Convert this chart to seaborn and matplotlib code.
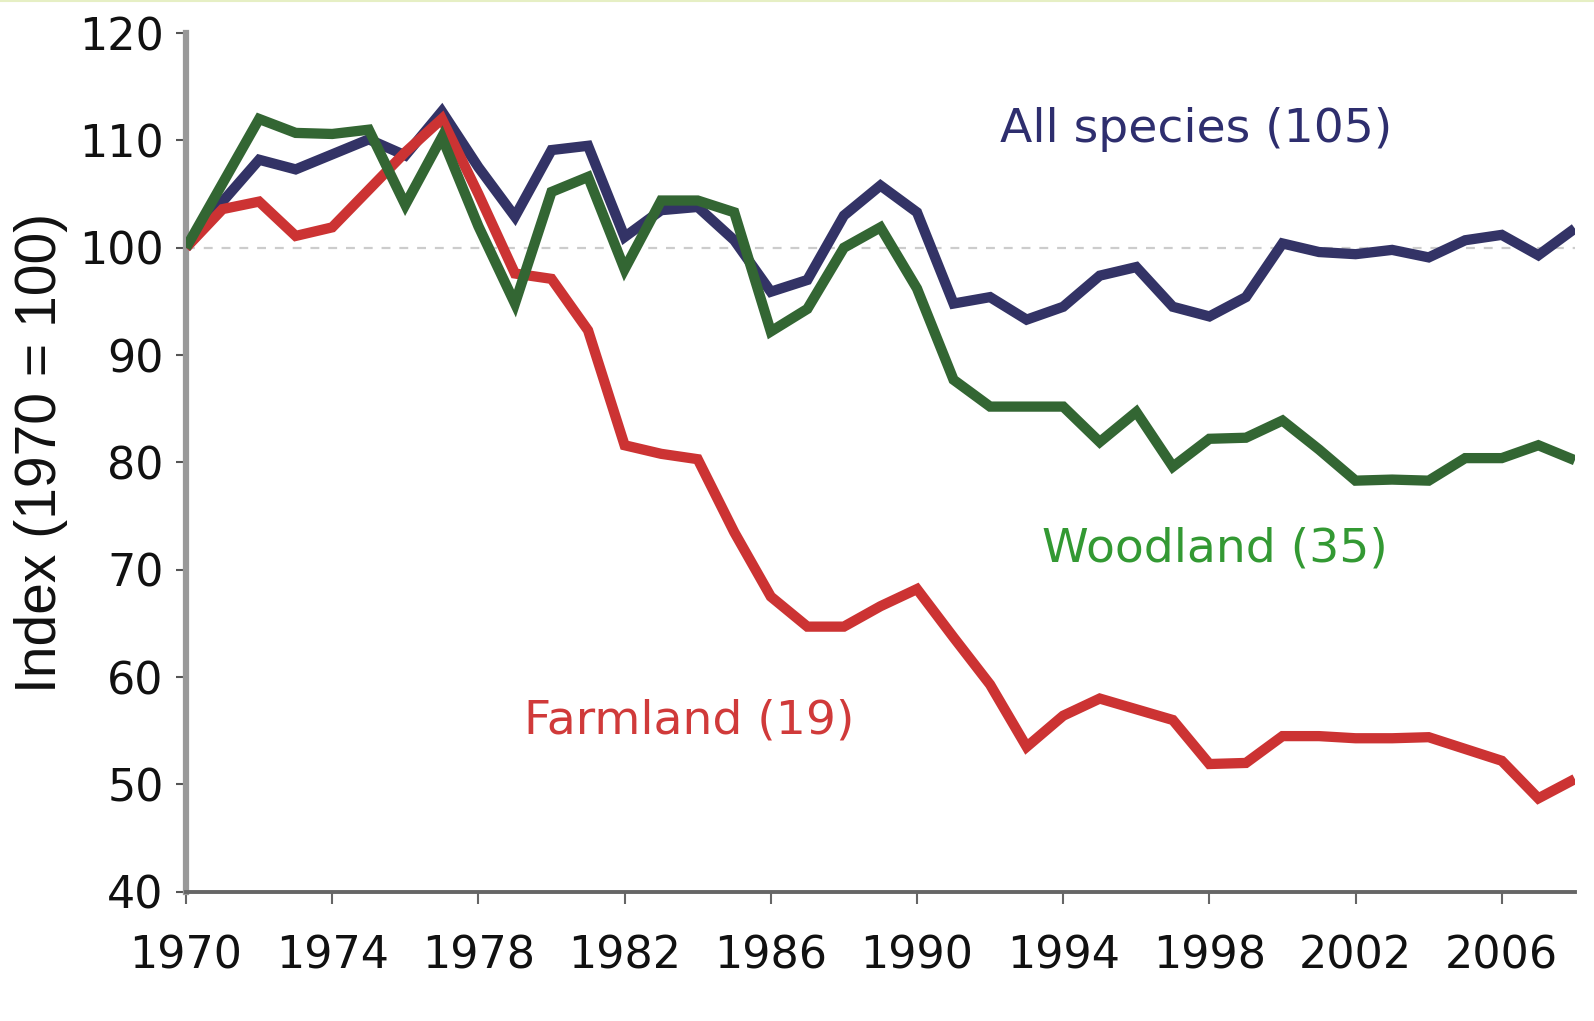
import matplotlib
matplotlib.use("Agg")
import matplotlib.pyplot as plt
import seaborn as sns
import pandas as pd
from matplotlib.lines import Line2D

years = list(range(1970, 2009))

all_species = [100, 104.3, 108.2, 107.3, 108.7, 110.1, 108.6, 112.7, 107.5, 102.9,
               109.1, 109.5, 101.0, 103.5, 103.8, 100.7, 95.9, 97.0, 103.0, 105.8,
               103.3, 94.8, 95.4, 93.3, 94.5, 97.4, 98.2, 94.5, 93.6, 95.4,
               100.4, 99.6, 99.4, 99.8, 99.1, 100.7, 101.2, 99.3, 101.8]

woodland = [100, 106.0, 112.0, 110.7, 110.6, 111.0, 104.0, 110.3, 102.0, 94.8,
            105.2, 106.6, 98.0, 104.4, 104.4, 103.3, 92.2, 94.3, 100.0, 101.9,
            96.2, 87.7, 85.2, 85.2, 85.2, 81.9, 84.7, 79.6, 82.2, 82.3,
            83.9, 81.2, 78.3, 78.4, 78.3, 80.4, 80.4, 81.6, 80.2]

farmland = [100, 103.6, 104.3, 101.1, 101.9, 105.4, 108.9, 112.0, 105.0, 97.6,
            97.1, 92.3, 81.6, 80.8, 80.3, 73.5, 67.5, 64.7, 64.7, 66.6,
            68.2, 63.7, 59.3, 53.5, 56.4, 58.0, 57.0, 56.0, 51.9, 52.0,
            54.5, 54.5, 54.3, 54.3, 54.4, 53.3, 52.2, 48.7, 50.5]

series_names = ["All species (105)", "Farmland (19)", "Woodland (35)"]
line_colors = ["#333366", "#cc3333", "#336633"]
text_colors = ["#2e2e6e", "#d03a3a", "#339933"]
x_ticks = list(range(1970, 2008, 4))
y_ticks = list(range(40, 121, 10))

sns.set_style("white")
plt.rcParams["font.family"] = ["DejaVu Sans"]

fig = plt.figure(figsize=(15.94, 10.21), dpi=100)
ax = fig.add_axes([0.1167, 0.1266, 0.8713, 0.841])

# reference line at 100
ax.axhline(100, color="#cccccc", lw=1.6, ls=(0, (4, 4)), zorder=1)

df = pd.DataFrame({"year": years, "All": all_species, "Farm": farmland, "Wood": woodland})
for col, c in zip(["All", "Farm", "Wood"], line_colors):
    sns.lineplot(data=df, x="year", y=col, color=c, lw=7.4, ax=ax,
                 solid_joinstyle="miter", solid_capstyle="butt", zorder=3)

ax.set_xlim(1970, 2008)
ax.set_ylim(40, 120)
ax.set_xticks(x_ticks)
ax.set_yticks(y_ticks)
ax.set_xlabel("")
ax.set_ylabel("Index (1970 = 100)", fontsize=41, family=["Liberation Sans", "DejaVu Sans"],
              color="#111111")
ax.yaxis.label.set_va("center")
ax.yaxis.set_label_coords(-0.1046, 0.5116)

ax.tick_params(axis="y", direction="out", length=7, width=1.5, color="#555555",
               labelsize=32, labelcolor="#111111", pad=9, left=True)
ax.tick_params(axis="x", direction="out", length=8.5, width=1.5, color="#666666",
               labelsize=32, labelcolor="#111111", pad=22, bottom=True)

for s in ["top", "right"]:
    ax.spines[s].set_visible(False)
ax.spines["left"].set_color("#999999")
ax.spines["left"].set_linewidth(4.5)
ax.spines["bottom"].set_color("#666666")
ax.spines["bottom"].set_linewidth(2.8)

# series labels
ax.text(1992.27, 109.87, series_names[0], color=text_colors[0], fontsize=34,
        ha="left", va="baseline")
ax.text(1979.25, 54.73, series_names[1], color=text_colors[1], fontsize=34,
        ha="left", va="baseline")
ax.text(1993.41, 70.73, series_names[2], color=text_colors[2], fontsize=34,
        ha="left", va="baseline")

fig.add_artist(Line2D([0, 1], [0.999, 0.999], color="#e6efc4", lw=1.5,
                      transform=fig.transFigure))

fig.savefig("out.png", dpi=100, facecolor="white")
